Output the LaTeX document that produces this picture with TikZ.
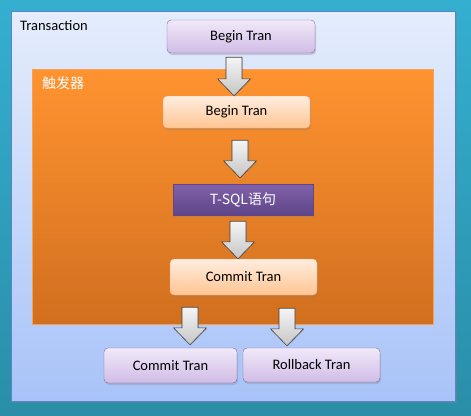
\documentclass[tikz,border=0pt]{standalone}
\usepackage{fontspec}
\setmainfont{Carlito}
\newfontfamily\cjk{Noto Sans CJK SC}
\usetikzlibrary{calc,shadows}

\definecolor{seabg}{HTML}{34AFD0}
\definecolor{seabgdark}{HTML}{2A8EA8}
\definecolor{frametop}{HTML}{E5EDFC}
\definecolor{framebot}{HTML}{A8C3F8}
\definecolor{frameline}{HTML}{5C84C4}
\definecolor{trigtop}{HTML}{FF9330}
\definecolor{trigbot}{HTML}{D16F1F}
\definecolor{trigline}{HTML}{F8A050}
\definecolor{peachtop}{HTML}{FFEDE0}
\definecolor{peachbot}{HTML}{FFC592}
\definecolor{peachline}{HTML}{F6A46A}
\definecolor{liltop}{HTML}{F1E9F9}
\definecolor{lilbot}{HTML}{D0BCE6}
\definecolor{lilline}{HTML}{8467A8}
\definecolor{grapetop}{HTML}{8161AA}
\definecolor{grapebot}{HTML}{5F4589}

\tikzset{
  lbl/.style={font=\fontsize{14.5bp}{17bp}\selectfont},
  tranbox/.style={lbl, rounded corners=4bp, inner sep=0pt,
    drop shadow={opacity=0.3, shadow xshift=1bp, shadow yshift=-2bp}},
  outerbox/.style={tranbox, draw=lilline, top color=liltop, bottom color=lilbot},
  innerbox/.style={tranbox, draw=peachline, top color=peachtop, bottom color=peachbot},
  sqlbox/.style={tranbox, sharp corners, draw=grapebot, top color=grapetop, bottom color=grapebot, text=white},
  tranarrow/.style={draw=black!75, semithick, top color=gray!8, bottom color=gray!45,
    drop shadow={opacity=0.2, shadow xshift=1bp, shadow yshift=-1bp}}
}

% block arrow: x, from, to, gap below from, gap above to
\newcommand{\tranarrow}[5]{%
  \path[tranarrow] let \p1=(#2.south), \p2=(#3.north) in
    (#1bp-8bp,\y1-#4bp) -- (#1bp+8bp,\y1-#4bp) -- (#1bp+8bp,\y2+#5bp+17bp)
    -- (#1bp+16.5bp,\y2+#5bp+17bp) -- (#1bp,\y2+#5bp)
    -- (#1bp-16.5bp,\y2+#5bp+17bp) -- (#1bp-8bp,\y2+#5bp+17bp) -- cycle;}

\begin{document}
\begin{tikzpicture}[x=1bp, y=-1bp]
    \useasboundingbox (0,0) rectangle (471,415);
        \shade[top color=seabg, bottom color=seabgdark] (0,0) rectangle (471,415);
        \path[draw=frameline, top color=frametop, bottom color=framebot,
          drop shadow={opacity=0.35, shadow xshift=2bp, shadow yshift=-2bp}] (11,11) rectangle (455,401);
        \node[lbl, anchor=base west, inner sep=0pt] (translbl) at (20,30) {Transaction};
        \path[draw=trigline, top color=trigtop, bottom color=trigbot] (32,69) rectangle (433,324);
        \node[anchor=base west, inner sep=0pt, text=white, font=\cjk\fontsize{14bp}{16bp}\selectfont] (triglbl) at (42,88) {触发器};
        \node[outerbox, minimum width=148bp, minimum height=33bp] (begin) at (241,36.5) {Begin Tran};
        \node[innerbox, minimum width=147bp, minimum height=32bp] (tbegin) at (236.5,112) {Begin Tran};
        \node[sqlbox, font=\cjk\fontsize{14bp}{16bp}\selectfont, minimum width=140bp, minimum height=31bp] (tsql) at (243,199.5) {T-SQL语句};
        \node[innerbox, minimum width=147bp, minimum height=36bp] (tcommit) at (243.5,277) {Commit Tran};
        \node[outerbox, minimum width=133bp, minimum height=35bp] (commit) at (170.5,365.5) {Commit Tran};
        \node[outerbox, minimum width=137bp, minimum height=34bp] (rollback) at (311.5,365) {Rollback Tran};
        \tranarrow{234}{begin}{tbegin}{4}{0}
        \tranarrow{240}{tbegin}{tsql}{12}{6}
        \tranarrow{238}{tsql}{tcommit}{6}{0}
        \tranarrow{190}{tcommit}{commit}{12}{3}
        \tranarrow{287}{tcommit}{rollback}{13}{2}
    \end{tikzpicture}
\end{document}
